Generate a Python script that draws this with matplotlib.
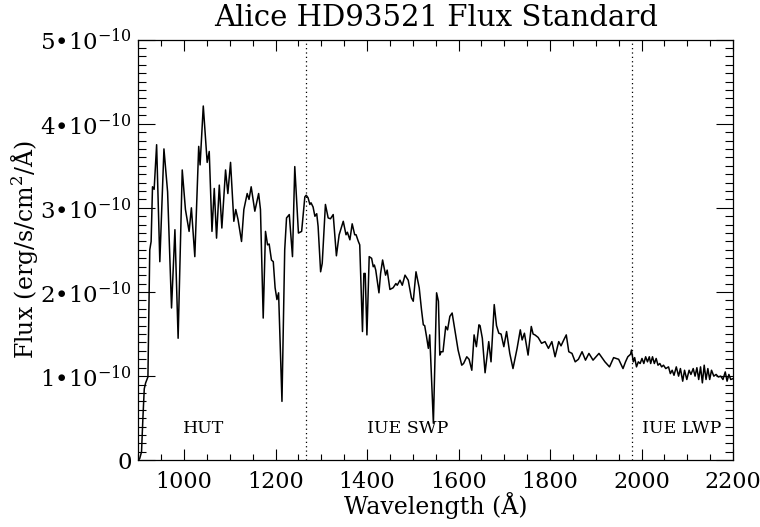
import matplotlib
matplotlib.use("Agg")
import matplotlib.pyplot as plt
from matplotlib.ticker import MultipleLocator, FixedLocator, FuncFormatter

# Wavelength (Angstrom) and flux (units of 1e-10 erg/s/cm^2/A)
wavelength = [
    900, 903, 907, 910, 913, 916, 921, 925, 928, 931, 934.6, 940, 947, 956, 964, 972.6, 980, 987,
    996, 1003, 1011, 1016, 1023.5, 1032, 1035, 1042, 1050.5, 1055, 1061, 1066, 1071, 1077, 1082.6,
    1090.7, 1095.7, 1101.6, 1108.8, 1113, 1118, 1125.6, 1130.7, 1138, 1142, 1146.7, 1154.7, 1163,
    1167, 1173, 1178, 1182.5, 1186, 1191, 1195, 1199, 1203, 1206.6, 1214, 1220, 1224, 1230, 1237,
    1242, 1250, 1257, 1264, 1267, 1271, 1275, 1277.5, 1282, 1286, 1290, 1293, 1298.5, 1302, 1309,
    1315, 1320, 1326, 1333, 1339, 1348, 1354, 1357, 1362.5, 1367.5, 1373, 1376, 1381, 1384, 1390,
    1393, 1396, 1399.7, 1404.7, 1410, 1413.5, 1416, 1419, 1426, 1429.6, 1434, 1440.5, 1444, 1450,
    1457, 1463, 1466, 1472, 1477, 1483, 1490, 1497, 1501, 1507, 1514, 1519, 1523, 1526, 1530, 1534,
    1537, 1545, 1552, 1556, 1559, 1562, 1566, 1572, 1576, 1581, 1586, 1592, 1599, 1607, 1611, 1618,
    1623, 1629, 1634, 1639, 1644.6, 1647, 1652, 1658, 1666, 1671, 1678, 1683, 1688, 1693, 1699,
    1705, 1712, 1719, 1728, 1735, 1739, 1744, 1752, 1759, 1763, 1767, 1774, 1781.5, 1789, 1796.5,
    1804, 1811, 1819, 1824, 1830, 1835.5, 1841, 1848, 1855, 1862, 1870, 1877.5, 1885, 1894, 1907,
    1920, 1930, 1939, 1950, 1959.5, 1965, 1970, 1976,
    1978, 1982, 1985, 1989, 1993, 1997, 2001, 2005, 2009, 2013, 2017, 2020, 2024, 2028, 2032, 2036,
    2040, 2044, 2048, 2053, 2059, 2063, 2067, 2071, 2076, 2081, 2085, 2090, 2094, 2099, 2104, 2108,
    2113, 2117, 2121, 2125, 2129, 2133, 2137, 2141, 2145, 2149, 2153, 2158, 2163, 2168, 2173, 2178,
    2183, 2187, 2191, 2195, 2200,
]
flux_e10 = [
    0.0, 0.02, 0.1, 0.5, 0.85, 0.92, 0.99, 2.50, 2.60, 3.25, 3.22, 3.75, 2.36, 3.70, 3.19, 1.81, 2.74, 1.45,
    3.45, 2.98, 2.72, 3.00, 2.42, 3.73, 3.51, 4.21, 3.54, 3.67, 2.72, 3.23, 2.64, 3.27, 2.76,
    3.45, 3.17, 3.54, 2.84, 2.98, 2.86, 2.60, 2.98, 3.17, 3.10, 3.25, 2.96, 3.17,
    2.98, 1.69, 2.72, 2.56, 2.57, 2.38, 2.36, 2.05, 1.91, 1.99, 0.70, 2.50, 2.88, 2.92, 2.42,
    3.49, 2.70, 2.72, 3.13, 3.15, 3.12, 3.04, 3.06, 3.01, 2.90, 2.93, 2.78, 2.24, 2.34, 3.04,
    2.88, 2.87, 2.92, 2.43, 2.68, 2.84, 2.68, 2.71, 2.62, 2.81, 2.68, 2.68, 2.60, 2.56, 1.53,
    2.22, 2.22, 1.49, 2.42, 2.40, 2.30, 2.32, 2.26, 1.99, 2.22, 2.38, 2.20, 2.26, 2.03,
    2.05, 2.10, 2.08, 2.14, 2.08, 2.20, 2.14, 1.93, 1.89, 2.24, 2.05, 1.79, 1.61, 1.60, 1.47, 1.33,
    1.49, 0.44, 1.99, 1.89, 1.25, 1.29, 1.29, 1.59, 1.55, 1.71, 1.75, 1.55, 1.31, 1.13, 1.15, 1.23,
    1.20, 1.07, 1.49, 1.35, 1.61, 1.60, 1.45, 1.04, 1.41, 1.17, 1.85, 1.60, 1.51, 1.50, 1.35,
    1.53, 1.27, 1.09, 1.33, 1.55, 1.43, 1.51, 1.25, 1.59, 1.50, 1.49, 1.46, 1.39, 1.41, 1.33,
    1.41, 1.23, 1.41, 1.36, 1.43, 1.49, 1.29, 1.27, 1.17, 1.20, 1.29, 1.19, 1.27, 1.19, 1.27,
    1.17, 1.11, 1.22, 1.20, 1.09, 1.17, 1.23, 1.26,
    1.31, 1.17, 1.22, 1.11, 1.17, 1.15, 1.21, 1.15, 1.23, 1.17, 1.23, 1.15, 1.23, 1.15, 1.21, 1.13,
    1.15, 1.11, 1.13, 1.09, 1.11, 1.03, 1.07, 1.01, 1.11, 1.00, 1.09, 0.94, 1.07, 0.96, 1.07, 1.02,
    1.09, 1.00, 1.10, 0.96, 1.11, 0.92, 1.13, 0.96, 1.09, 0.96, 1.07, 1.00, 1.02, 0.99, 1.00, 0.96,
    1.05, 0.94, 1.02, 0.96, 0.97,
]
flux = [v * 1e-10 for v in flux_e10]

x_ticks = [1000, 1200, 1400, 1600, 1800, 2000, 2200]
y_ticks = [0, 1e-10, 2e-10, 3e-10, 4e-10, 5e-10]

boundaries = [1266, 1980]
region_labels = ["HUT", "IUE SWP", "IUE LWP"]
region_label_x = [1043, 1488, 2087]
region_label_y = [0.38e-10, 0.38e-10, 0.38e-10]

plt.rcParams['font.family'] = ['DejaVu Serif']
plt.rcParams['mathtext.fontset'] = 'dejavuserif'

fig = plt.figure(figsize=(7.6, 5.27), dpi=100)
ax = fig.add_axes([0.182, 0.1266, 0.7825, 0.7984])

ax.plot(wavelength, flux, color='black', lw=1.1)
for b in boundaries:
    ax.axvline(b, color='black', lw=0.9, linestyle=(0, (1, 2.5)))
for lab, lx, ly in zip(region_labels, region_label_x, region_label_y):
    ax.text(lx, ly, lab, ha='center', va='center', fontsize=12.5)

ax.set_xlim(900, 2200)
ax.set_ylim(0, 5e-10)
ax.xaxis.set_major_locator(FixedLocator(x_ticks))
ax.xaxis.set_minor_locator(MultipleLocator(50))
ax.yaxis.set_major_locator(FixedLocator(y_ticks))
ax.yaxis.set_minor_locator(MultipleLocator(1e-11))

def yfmt(v, pos):
    n = int(round(v / 1e-10))
    if n == 0:
        return '0'
    return '%d•10$^{-10}$' % n

ax.yaxis.set_major_formatter(FuncFormatter(yfmt))
ax.tick_params(axis='x', which='major', direction='in', length=8, width=0.8, top=True, labelsize=16, pad=8)
ax.tick_params(axis='x', which='minor', direction='in', length=4, width=0.8, top=True)
ax.tick_params(axis='y', which='major', direction='in', length=12, width=0.8, right=True, labelsize=16.5, pad=4.5)
ax.tick_params(axis='y', which='minor', direction='in', length=6, width=0.8, right=True)
for s in ax.spines.values():
    s.set_linewidth(0.9)

ax.set_xlabel('Wavelength (Å)', fontsize=17, labelpad=-1)
ax.set_ylabel('Flux (erg/s/cm$^2$/Å)', fontsize=17, labelpad=0)
ax.set_title('Alice HD93521 Flux Standard', fontsize=21, pad=10)

fig.savefig('out.png', dpi=100)
